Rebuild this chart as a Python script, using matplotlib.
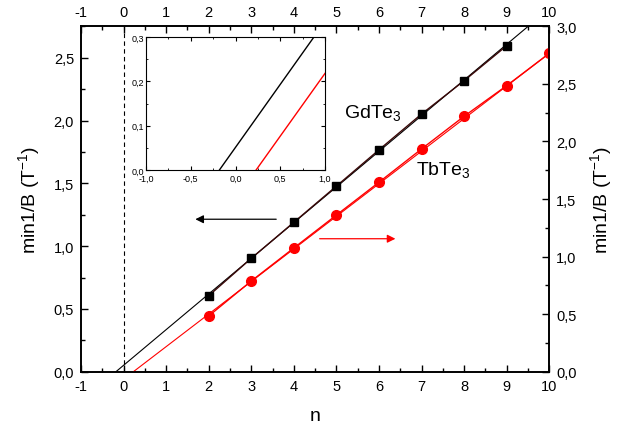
import numpy as np
import matplotlib
matplotlib.use("Agg")
from matplotlib import pyplot as plt
from matplotlib.ticker import MultipleLocator, FuncFormatter

plt.rcParams['font.family'] = ['Liberation Sans', 'DejaVu Sans']
plt.rcParams['mathtext.fontset'] = 'custom'
plt.rcParams['mathtext.rm'] = 'Liberation Sans'
plt.rcParams['mathtext.it'] = 'Liberation Sans:italic'
plt.rcParams['axes.unicode_minus'] = False

# GdTe3 (left axis)
n_gd = [2, 3, 4, 5, 6, 7, 8, 9]
b_gd = [0.605, 0.903, 1.19, 1.478, 1.767, 2.052, 2.317, 2.596]
# TbTe3 (right axis)
n_tb = [2, 3, 4, 5, 6, 7, 8, 9, 10]
b_tb = [0.484, 0.788, 1.075, 1.361, 1.646, 1.935, 2.219, 2.485, 2.766]

# linear fits: (slope, zero crossing)
fit_gd = (0.284, -0.18)
fit_tb = (0.283, 0.23)


def comma(v, pos):
    return ('%.1f' % v).replace('.', ',')


fig = plt.figure(figsize=(6.36, 4.35), dpi=100)
ax = fig.add_axes([0.1274, 0.1432, 0.7363, 0.794])
ax2 = ax.twinx()

ax.set_xlim(-1, 10)
ax.set_ylim(0, 2.75)
ax2.set_ylim(0, 3.0)

ax.axvline(0, color='k', lw=0.8, ls=(0, (4, 3)))

# fit lines
xx = np.linspace(fit_gd[1], 10, 200)
ax.plot(xx, fit_gd[0] * (xx - fit_gd[1]), color='k', lw=0.8)
xx = np.linspace(fit_tb[1], 10, 200)
ax2.plot(xx, fit_tb[0] * (xx - fit_tb[1]), color='red', lw=0.8)

ax.plot(n_gd, b_gd, color='#3a0808', lw=1.0, marker='s', ms=6, mfc='k', mec='k')
ax2.plot(n_tb, b_tb, color='red', lw=1.0, marker='o', ms=7, mfc='red', mec='red')

ax.text(5.85, 2.07, 'GdTe$_3$', fontsize=14, ha='center', va='center')
ax2.text(7.5, 1.76, 'TbTe$_3$', fontsize=14, ha='center', va='center')

ax.annotate('', xy=(1.62, 1.214), xytext=(3.65, 1.214),
            arrowprops=dict(arrowstyle='-|>', color='k', lw=0.9,
                            mutation_scale=12))
ax2.annotate('', xy=(6.45, 1.155), xytext=(4.54, 1.155),
             arrowprops=dict(arrowstyle='-|>', color='red', lw=0.9,
                             mutation_scale=12))

ax.xaxis.set_major_locator(MultipleLocator(1))
ax.xaxis.set_minor_locator(MultipleLocator(0.5))
ax.yaxis.set_major_locator(MultipleLocator(0.5))
ax.yaxis.set_minor_locator(MultipleLocator(0.25))
ax2.yaxis.set_major_locator(MultipleLocator(0.5))
ax2.yaxis.set_minor_locator(MultipleLocator(0.25))
ax.yaxis.set_major_formatter(FuncFormatter(comma))
ax2.yaxis.set_major_formatter(FuncFormatter(comma))

ax.tick_params(axis='x', which='both', direction='in', top=True, labeltop=True,
               labelsize=10.5, pad=5)
ax.tick_params(axis='y', which='both', direction='in', right=False,
               labelsize=10.5, pad=5)
ax2.tick_params(axis='y', which='both', direction='in', labelsize=10.5, pad=5)
for a in (ax, ax2):
    a.tick_params(which='major', length=5, width=1)
    a.tick_params(which='minor', length=3, width=1)
for a in (ax, ax2):
    for s in a.spines.values():
        s.set_linewidth(1.2)

ax.set_xlabel('n', fontsize=14, labelpad=10)
ax.set_ylabel('min1/B (T$^{-1}$)', fontsize=14, labelpad=8)
ax2.set_ylabel('min1/B (T$^{-1}$)', fontsize=14, labelpad=8)

# inset
ins = fig.add_axes([0.2296, 0.6069, 0.2814, 0.3057])
ins.set_xlim(-1, 1)
ins.set_ylim(0, 0.3)
xx = np.linspace(fit_gd[1], 1, 50)
ins.plot(xx, fit_gd[0] * (xx - fit_gd[1]), color='k', lw=1.0)
xx = np.linspace(fit_tb[1], 1, 50)
ins.plot(xx, fit_tb[0] * (xx - fit_tb[1]), color='red', lw=1.0)
ins.xaxis.set_major_locator(MultipleLocator(0.5))
ins.xaxis.set_minor_locator(MultipleLocator(0.25))
ins.yaxis.set_major_locator(MultipleLocator(0.1))
ins.yaxis.set_minor_locator(MultipleLocator(0.05))
ins.xaxis.set_major_formatter(FuncFormatter(comma))
ins.yaxis.set_major_formatter(FuncFormatter(comma))
ins.tick_params(which='both', direction='in', top=True, right=True,
                labelsize=6.5)
ins.tick_params(axis='x', pad=2.5)
ins.tick_params(axis='y', pad=1.5)
ins.tick_params(which='major', length=3)
ins.tick_params(which='minor', length=1.5)

fig.savefig('out.png', dpi=100)
